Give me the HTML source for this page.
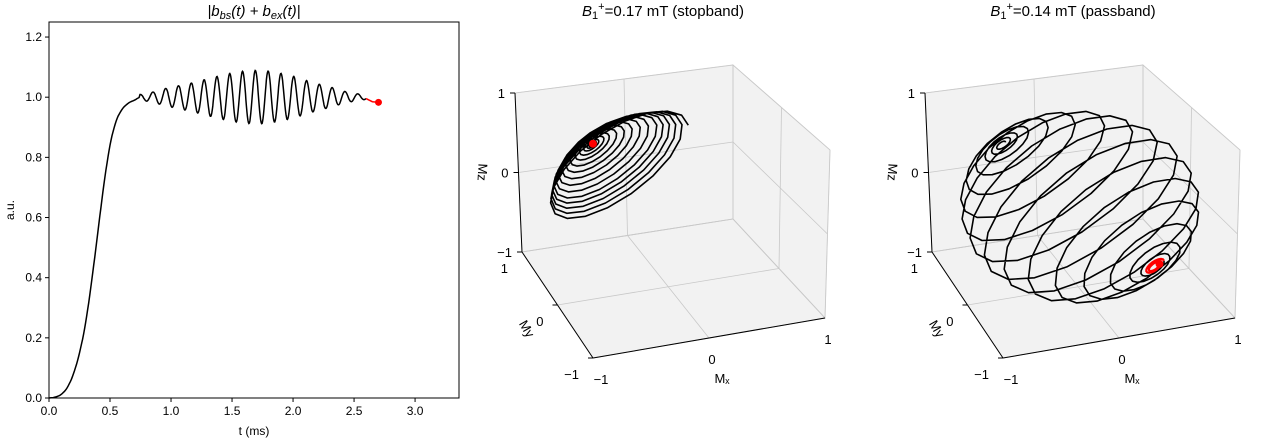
<!DOCTYPE html>
<html><head><meta charset="utf-8">
<style>
body{margin:0;background:#fff;}
svg{display:block;font-family:"Liberation Sans","DejaVu Sans",sans-serif;}
</style></head>
<body>
<svg id="fig" width="1280" height="440" viewBox="0 0 1280 440">
<g id="left"></g>
<g id="p2"></g>
<g id="p3"></g>
</svg>
<script>
// ---------- left chart data ----------
const riseT = [0,0.05,0.1,0.15,0.2,0.25,0.3,0.35,0.4,0.45,0.5,0.55,0.6,0.65,0.7,0.746];
const riseV = [0,0.003,0.012,0.035,0.08,0.15,0.25,0.39,0.55,0.71,0.84,0.92,0.96,0.98,0.99,1.0];
const oscStart = 0.746;
const oscPeriod = 0.105;
const oscAmp = [0.009,0.017,0.029,0.038,0.047,0.058,0.069,0.079,0.086,0.089,0.087,0.079,0.069,0.055,0.043,0.032,0.019,0.011,0.005];
const tailT = [2.6,2.65,2.7];
const tailV = [0.995,0.985,0.983];
const xTicks = [0,0.5,1.0,1.5,2.0,2.5,3.0];
const yTicks = [0,0.2,0.4,0.6,0.8,1.0,1.2];
// ---------- 3D data ----------
const axisStop = [-0.61,0.2,0.77];
const thetaStop = [49,46,43,40,37,34,30,26,22,18,14,10,7,4,2.5,1.5,0.5];
const axisPass = [-0.61,0.2,0.77];
const thetaPass = [2,5,9,15,25,38,52,66,80,94,108,122,136,150,162,170,174];
const thetaPassRed = [174,176,177];
const axTicks = [-1,0,1];

const NS="http://www.w3.org/2000/svg";
function el(tag, attrs, parent, txt){
  const e=document.createElementNS(NS,tag);
  for(const k in attrs) e.setAttribute(k,attrs[k]);
  if(txt!==undefined) e.textContent=txt;
  parent.appendChild(e); return e;
}
// ---------- left chart ----------
const L=document.getElementById('left');
const X0=49,X1=459,Y0=22,Y1=398;
const xs=t=>X0+t*(X1-X0)/3.36;
const ys=v=>Y1-v*(Y1-Y0)/1.25;
let pts=[];
for(let i=0;i<riseT.length-1;i++){
  const p0=riseV[Math.max(0,i-1)],p1=riseV[i],p2=riseV[i+1],p3=riseV[Math.min(riseV.length-1,i+2)];
  for(let s=0;s<6;s++){
    const f=s/6;
    const v=0.5*((2*p1)+(-p0+p2)*f+(2*p0-5*p1+4*p2-p3)*f*f+(-p0+3*p1-3*p2+p3)*f*f*f);
    pts.push([riseT[i]+(riseT[i+1]-riseT[i])*f,v]);
  }
}
const oscEnd=tailT[0];
for(let t=oscStart;t<=oscEnd+1e-9;t+=0.004){
  const c=(t-oscStart)/oscPeriod;
  const k=Math.min(oscAmp.length-1,Math.floor(c));
  const k2=Math.min(oscAmp.length-1,k+1);
  const f=c-Math.floor(c);
  const A=oscAmp[k]*(1-f)+oscAmp[k2]*f;
  pts.push([t,1+A*Math.cos(2*Math.PI*c)]);
}
const curve=el('path',{d:'M'+pts.map(p=>xs(p[0]).toFixed(1)+','+ys(p[1]).toFixed(1)).join('L'),fill:'none',stroke:'#000','stroke-width':1.5},L);


const lastP=pts[pts.length-1];
const red=el('path',{d:'M'+xs(lastP[0])+','+ys(lastP[1])+tailT.map((t,i)=>'L'+xs(t)+','+ys(tailV[i])).join(''),fill:'none',stroke:'#f00','stroke-width':1.5},L);


const dot=el('circle',{cx:xs(tailT[tailT.length-1]),cy:ys(tailV[tailV.length-1]),r:3.5,fill:'#f00'},L);


const frame=el('rect',{x:X0,y:Y0,width:X1-X0,height:Y1-Y0,fill:'none',stroke:'#000','stroke-width':1},L);


xTicks.forEach(t=>{
  const x=xs(t);
  const tk=el('line',{x1:x,x2:x,y1:Y1,y2:Y1+4,stroke:'#000'},L);
  
  
  const lb=el('text',{x:x,y:Y1+17,'font-size':12,'text-anchor':'middle'},L,t.toFixed(1));
  
  
});
yTicks.forEach(v=>{
  const y=ys(v);
  const tk=el('line',{x1:X0-4,x2:X0,y1:y,y2:y,stroke:'#000'},L);
  
  
  const lb=el('text',{x:X0-7,y:y+4,'font-size':12,'text-anchor':'end'},L,v.toFixed(1));
  
  
});
let e;
e=el('text',{x:254,y:435,'font-size':12,'text-anchor':'middle'},L,'t (ms)');

e=el('text',{x:14,y:210,'font-size':12,'text-anchor':'middle',transform:'rotate(-90 14 210)'},L,'a.u.');

e=el('text',{x:254,y:16,'font-size':15,'text-anchor':'middle','font-style':'italic'},L);
e.innerHTML='|b<tspan font-size="11" dy="3">bs</tspan><tspan dy="-3">(t) + b</tspan><tspan font-size="11" dy="3">ex</tspan><tspan dy="-3">(t)|</tspan>';


// ---------- 3D ----------
const C={
  '-1,-1,-1':[593,358],'1,-1,-1':[825,318],'-1,1,-1':[522,252],'1,1,-1':[733,219],
  '-1,-1,1':[598,190],'1,-1,1':[830,150],'-1,1,1':[515,93],'1,1,1':[733,65]};
function proj(x,y,z,off){
  const u=(x+1)/2,v=(y+1)/2,w=(z+1)/2;
  let sx=0,sy=0;
  for(const a of [-1,1])for(const b of [-1,1])for(const c of [-1,1]){
    const wt=(a>0?u:1-u)*(b>0?v:1-v)*(c>0?w:1-w);
    const p=C[a+','+b+','+c]; sx+=wt*p[0]; sy+=wt*p[1];
  }
  return [sx+off,sy];
}
function pathOf(list,off){return 'M'+list.map(p=>{const q=proj(p[0],p[1],p[2],off);return q[0].toFixed(1)+','+q[1].toFixed(1);}).join('L');}
function norm(a){const l=Math.hypot(a[0],a[1],a[2]);return a.map(x=>x/l);}
function cross(a,b){return [a[1]*b[2]-a[2]*b[1],a[2]*b[0]-a[0]*b[2],a[0]*b[1]-a[1]*b[0]];}
function spiral(axis,thetas){
  const n=norm(axis);const u=norm(cross(n,[0,0,1]));const w=cross(n,u);
  const out=[];const seg=18;
  for(let i=0;i<thetas.length-1;i++){
    for(let s=0;s<seg;s++){
      const f=s/seg;const th=(thetas[i]*(1-f)+thetas[i+1]*f)*Math.PI/180;
      const ph=-Math.PI/2+2*Math.PI*f;
      const c=Math.cos(th),sn=Math.sin(th);
      out.push([0,1,2].map(k=>n[k]*c+sn*(Math.cos(ph)*u[k]+Math.sin(ph)*w[k])));
    }
  }
  const th=thetas[thetas.length-1]*Math.PI/180,ph=-Math.PI/2;
  out.push([0,1,2].map(k=>n[k]*Math.cos(th)+Math.sin(th)*(Math.cos(ph)*u[k]+Math.sin(ph)*w[k])));
  return out;
}
function draw3D(g,off,title,axis,thetas,redThetas){
  const pane=(list,name)=>{const p=el('path',{d:pathOf(list,off)+'Z',fill:'#f2f2f2',stroke:'#e0e0e0','stroke-width':1},g);
    };
  pane([[-1,1,-1],[1,1,-1],[1,1,1],[-1,1,1]],'back-pane');
  pane([[1,-1,-1],[1,1,-1],[1,1,1],[1,-1,1]],'right-pane');
  pane([[-1,-1,-1],[1,-1,-1],[1,1,-1],[-1,1,-1]],'floor-pane');
  const grid=(a,b)=>{const p=el('path',{d:pathOf([a,b],off),stroke:'#c8c8c8','stroke-width':0.8,fill:'none'},g);
    };
  axTicks.forEach(t=>{
    grid([t,1,-1],[t,1,1]); grid([-1,1,t],[1,1,t]);
    grid([1,t,-1],[1,t,1]); grid([1,-1,t],[1,1,t]);
    grid([t,-1,-1],[t,1,-1]); grid([-1,t,-1],[1,t,-1]);
  });
  const axl=(a,b,name)=>{const p=el('path',{d:pathOf([a,b],off),stroke:'#000','stroke-width':1,fill:'none'},g);
    };
  axl([-1,1,-1],[-1,1,1],'mz-axis-line');
  axl([-1,1,-1],[-1,-1,-1],'my-axis-line');
  axl([-1,-1,-1],[1,-1,-1],'mx-axis-line');
  const tl=(p,txt,dx,dy,anchor,name)=>{const q=proj(p[0],p[1],p[2],off);
    const t=el('text',{x:q[0]+dx,y:q[1]+dy,'font-size':13,'text-anchor':anchor},g,txt);
    
    const tk=el('line',{x1:q[0],y1:q[1],x2:q[0]-5,y2:q[1],stroke:'#000'},g);
    };
  axTicks.forEach(t=>{
    tl([-1,1,t],t<0?'−1':String(t),-10,5,'end','mz-tick');
    tl([-1,t,-1],t<0?'−1':String(t),-14,21,'end','my-tick');
  });
  axTicks.forEach(t=>{const q=proj(t,-1,-1,off);
    const tx=el('text',{x:q[0]+(t<0?8:3),y:q[1]+26,'font-size':13,'text-anchor':'middle'},g,t<0?'−1':String(t));
    });
  e=el('text',{x:off+722,y:383,'font-size':13,'text-anchor':'middle'},g,'Mₓ');
  
  e=el('text',{x:off+523,y:331,'font-size':13,'text-anchor':'middle',transform:'rotate(60 '+(off+523)+' 331)'},g,'My');
  
  e=el('text',{x:off+478,y:172,'font-size':13,'text-anchor':'middle',transform:'rotate(93 '+(off+478)+' 172)'},g,'Mz');
  
  const tr=el('path',{d:pathOf(spiral(axis,thetas),off),fill:'none',stroke:'#000','stroke-width':1.6,'stroke-linejoin':'round'},g);
  
  let endTheta=thetas[thetas.length-1];
  if(redThetas){
    const rt=el('path',{d:pathOf(spiral(axis,redThetas),off),fill:'none',stroke:'#f00','stroke-width':2.2},g);
    
    endTheta=redThetas[redThetas.length-1];
  }
  const sp=spiral(axis,[endTheta,endTheta]);const q=proj(...sp[sp.length-1],off);
  const d=el('circle',{cx:q[0],cy:q[1],r:4,fill:'#f00'},g);
  
  e=el('text',{x:off+663,y:16,'font-size':15,'text-anchor':'middle'},g);
  e.innerHTML='<tspan font-style="italic">B</tspan><tspan font-size="11" dy="3">1</tspan><tspan font-size="11" dy="-9">+</tspan><tspan dy="6">'+title+'</tspan>';
  
}
draw3D(document.getElementById('p2'),0,'=0.17 mT (stopband)',axisStop,thetaStop,null);
draw3D(document.getElementById('p3'),410,'=0.14 mT (passband)',axisPass,thetaPass,thetaPassRed);
</script>
</body></html>
